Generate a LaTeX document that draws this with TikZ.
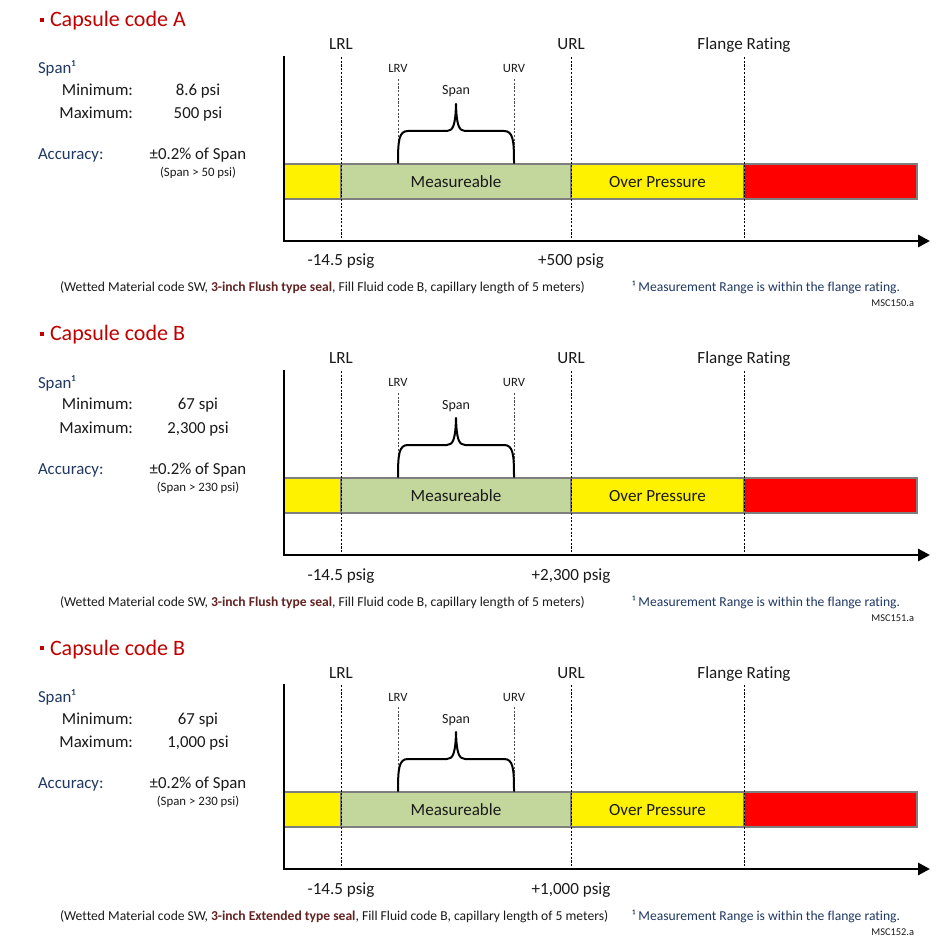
\documentclass[tikz,border=0pt]{standalone}
\usepackage{fontspec}
\setmainfont{Carlito}[Ligatures={NoCommon}]
\usetikzlibrary{arrows.meta}
\definecolor{titlered}{HTML}{C00000}
\definecolor{navy}{HTML}{1F3864}
\definecolor{sealred}{HTML}{632423}
\definecolor{measgreen}{HTML}{C3D69B}
\definecolor{bargray}{HTML}{7F7F7F}
\definecolor{bodytext}{HTML}{1A1A1A}
\tikzset{
  txt/.style={inner sep=0pt, outer sep=0pt, text=bodytext},
  titletext/.style={txt, text=titlered, font=\fontsize{16.5}{19}\selectfont},
  bulletsq/.style={fill=titlered, draw=none, minimum size=3.6pt, inner sep=0pt},
  body/.style={txt, font=\fontsize{12.6}{15}\selectfont},
  navytext/.style={txt, text=navy, font=\fontsize{12.6}{15}\selectfont},
  note/.style={txt, font=\fontsize{9.6}{11}\selectfont},
  lbl/.style={txt, font=\fontsize{12.8}{15}\selectfont},
  small/.style={txt, font=\fontsize{9.5}{11}\selectfont},
  spanlbl/.style={txt, font=\fontsize{10.5}{12}\selectfont},
  foot/.style={txt, font=\fontsize{10.2}{12}\selectfont},
  footnavy/.style={txt, text=navy, font=\fontsize{10.2}{12}\selectfont},
  msc/.style={txt, font=\fontsize{7.8}{9}\selectfont},
  barseg/.style={draw=bargray, line width=0.8pt},
  guide/.style={black, line width=0.5pt, dash pattern=on 1.6pt off 1.2pt},
  guidegray/.style={black!70, line width=0.5pt, dash pattern=on 1.6pt off 1.2pt},
  axisline/.style={line width=2.2pt, line join=miter, -{Triangle[length=9pt,width=9pt]}},
  bracepath/.style={line width=1.5pt, line cap=round, line join=round},
}
\newcommand\capsulepanel[9]{%
\begin{scope}[shift={(0,#2)}]
  % left block
  \node[bulletsq] (bul#1) at (42,20) {};
  \node[titletext, anchor=base west] (tt#1) at (50,27) {Capsule code #3};
  \node[navytext, anchor=base west] (span#1) at (38,74) {Span¹};
  \node[body, anchor=base east] (minl#1) at (133,96) {Minimum:};
  \node[body, anchor=base] (minv#1) at (198,96) {#4};
  \node[body, anchor=base east] (maxl#1) at (133,119) {Maximum:};
  \node[body, anchor=base] (maxv#1) at (198,119) {#5};
  \node[navytext, anchor=base west] (accl#1) at (38,160) {Accuracy:};
  \node[body, anchor=base] (accv#1) at (198,160) {±0.2\% of Span};
  \node[note, anchor=base] (accn#1) at (198,177) {#6};
  % bar segments
  \filldraw[barseg, fill=yellow] (284,164) rectangle (341,199);
  \filldraw[barseg, fill=measgreen] (341,164) rectangle (571,199);
  \filldraw[barseg, fill=yellow] (571,164) rectangle (744,199);
  \filldraw[barseg, fill=red] (744,164) rectangle (917,199);
  \node[lbl] (meas#1) at (456,182) {Measureable};
  \node[lbl] (over#1) at (657.5,182) {Over Pressure};
  % limit labels and guides
  \node[lbl, anchor=base] (lrl#1) at (341,50) {LRL};
  \node[lbl, anchor=base] (url#1) at (571,50) {URL};
  \node[lbl, anchor=base] (flg#1) at (744,50) {Flange Rating};
  \coordinate (lrlt#1) at (341,57);  \coordinate (lrlb#1) at (341,241);
  \coordinate (urlt#1) at (571,57);  \coordinate (urlb#1) at (571,241);
  \coordinate (flgt#1) at (744,57);  \coordinate (flgb#1) at (744,241);
  \draw[guide] (lrlt#1) -- (lrlb#1);
  \draw[guide] (urlt#1) -- (urlb#1);
  \draw[guide] (flgt#1) -- (flgb#1);
  % LRV / URV
  \node[small, anchor=base] (lrv#1) at (398,73) {LRV};
  \node[small, anchor=base] (urv#1) at (514,73) {URV};
  \coordinate (lrvt#1) at (398,79);  \coordinate (lrvb#1) at (398,150);
  \coordinate (urvt#1) at (514,79);  \coordinate (urvb#1) at (514,150);
  \draw[guidegray] (lrvt#1) -- (lrvb#1);
  \draw[guidegray] (urvt#1) -- (urvb#1);
  % brace
  \node[spanlbl, anchor=base] (spn#1) at (456,95) {Span};
  \draw[bracepath] (398,163) .. controls (398,140) and (399,131) .. (408,131)
     -- (447,131) .. controls (453,131) and (455.5,125) .. (456,104)
     .. controls (456.5,125) and (459,131) .. (465,131)
     -- (504,131) .. controls (513,131) and (514,140) .. (514,163);
  % axes
  \coordinate (ytop#1) at (284,56);
  \coordinate (org#1) at (284,241);
  \coordinate (xend#1) at (930,241);
  \draw[axisline] (ytop#1) -- (org#1) -- (xend#1);
  % axis values
  \node[lbl, anchor=base] (lo#1) at (341,266) {-14.5 psig};
  \node[lbl, anchor=base] (hi#1) at (571,266) {#7};
  % footnotes
  \node[foot, anchor=base west] (fn#1) at (60,292) {(Wetted Material code SW, {\bfseries\color{sealred}3-inch #8 type seal}, Fill Fluid code B, capillary length of 5 meters)};
  \node[footnavy, anchor=base west] (fm#1) at (632,292) {¹ Measurement Range is within the flange rating.};
  \node[msc, anchor=base east] (msc#1) at (914,307) {#9};
\end{scope}}
\begin{document}
\begin{tikzpicture}[x=0.75pt, y=-0.75pt]
  \useasboundingbox[fill=white] (0,0) rectangle (952,944);
  \capsulepanel{a}{0}{A}{8.6 psi}{500 psi}{(Span > 50 psi)}{+500 psig}{Flush}{MSC150.a}
  \capsulepanel{b}{314}{B}{67 spi}{2,300 psi}{(Span > 230 psi)}{+2,300 psig}{Flush}{MSC151.a}
  \capsulepanel{c}{628}{B}{67 spi}{1,000 psi}{(Span > 230 psi)}{+1,000 psig}{Extended}{MSC152.a}
\end{tikzpicture}
\end{document}
